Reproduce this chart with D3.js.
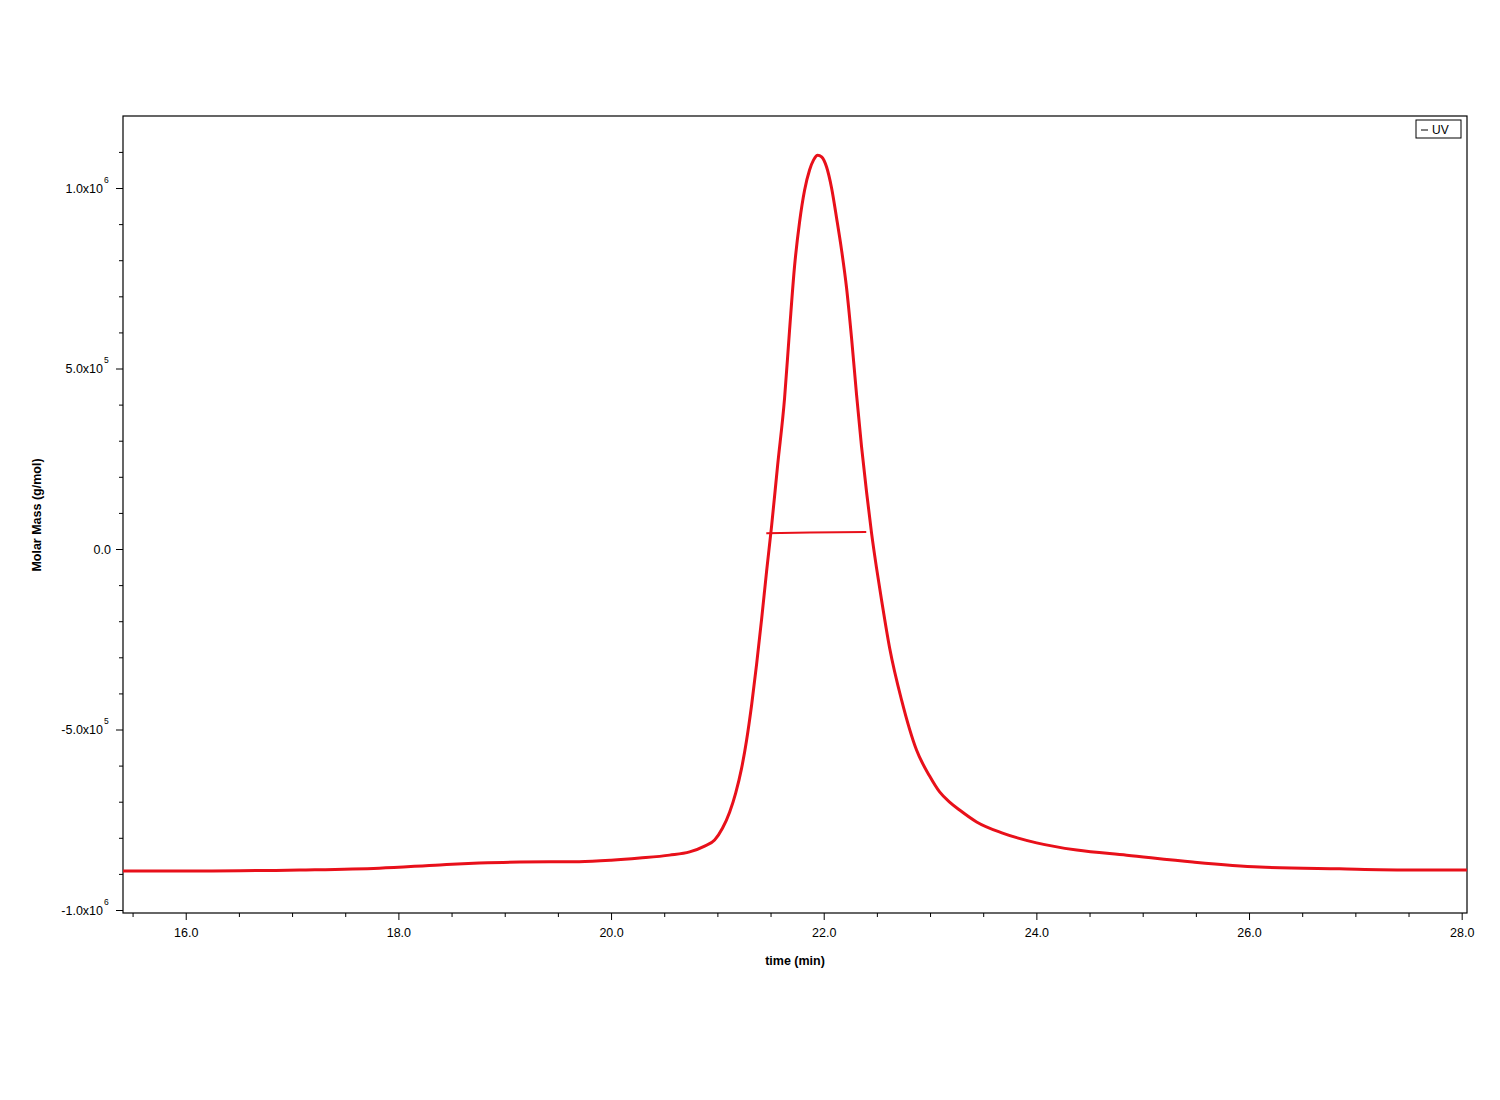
<!DOCTYPE html>
<html><head><meta charset="utf-8">
<script src="https://cdn.jsdelivr.net/npm/d3@7"></script>
<style>
body{margin:0;background:#fff;}
text{font-family:"Liberation Sans",Arial,sans-serif;}
</style></head>
<body><svg id="c" width="1500" height="1100"></svg>
<script>
// UV trace (time in min, value on molar-mass axis)
const uvTime = [15.41,16.13,17.07,17.82,18.39,18.76,19.14,19.70,20.00,20.27,20.55,
  20.739,20.880,20.974,21.049,21.115,21.172,21.228,21.275,21.322,21.369,21.416,21.463,21.510,21.567,21.632,21.679,21.726,21.773,21.820,21.867,21.905,21.943,
  21.980,22.027,22.074,22.121,22.168,22.215,22.262,22.309,22.356,22.403,22.450,22.497,22.544,22.620,22.732,22.873,22.996,23.090,23.184,23.278,23.438,23.682,24.002,
  24.38,24.85,25.47,26.10,26.85,27.48,28.05];
const uvValue = [-8.92e5,-8.92e5,-8.89e5,-8.84e5,-8.75e5,-8.70e5,-8.67e5,-8.66e5,-8.62e5,-8.56e5,-8.48e5,
  -8.39e5,-8.23e5,-8.06e5,-7.73e5,-7.29e5,-6.76e5,-6.07e5,-5.29e5,-4.32e5,-3.19e5,-1.94e5,-0.61e5,0.64e5,2.33e5,4.18e5,6.07e5,7.84e5,9.06e5,9.94e5,1.050e6,1.078e6,1.091e6,
  1.086e6,1.058e6,1.000e6,9.17e5,8.28e5,7.23e5,5.84e5,4.27e5,2.83e5,1.58e5,0.44e5,-0.53e5,-1.41e5,-2.74e5,-4.18e5,-5.57e5,-6.29e5,-6.73e5,-7.01e5,-7.23e5,-7.56e5,-7.87e5,-8.14e5,
  -8.34e5,-8.48e5,-8.67e5,-8.81e5,-8.86e5,-8.89e5,-8.89e5];
// Molar mass segment
const mmTime = [21.46,21.87,22.40];
const mmValue = [4.4e4,4.6e4,4.7e4];
// ticks
const xTicks = [16,18,20,22,24,26,28];
const xTickLabels = ["16.0","18.0","20.0","22.0","24.0","26.0","28.0"];
const yTicks = [-1e6,-5e5,0,5e5,1e6];
const yTickMantissa = ["-1.0x10","-5.0x10","0.0","5.0x10","1.0x10"];
const yTickExp = ["6","5","","5","6"];
const seriesName = "UV";

const svg = d3.select("#c");
const L=123,T=116,R=1467,B=913;
const x = d3.scaleLinear().domain([15.41,28.05]).range([L,R]);
const y = d3.scaleLinear().domain([-1.0083e6,1.1995e6]).range([B,T]);
const red = "#e8101a";
const FONT = "Liberation Sans, Arial, sans-serif";

// frame
svg.append("rect").attr("x",L).attr("y",T).attr("width",R-L).attr("height",B-T)
  .attr("fill","none").attr("stroke","#000").attr("stroke-width",1.2);

// x axis
const xMinor = d3.range(15.5,28.01,0.5).filter(v=>!xTicks.includes(v));
const xa = svg.append("g").attr("transform",`translate(0,${B})`);
xa.call(d3.axisBottom(x).tickValues(xMinor).tickSize(4).tickFormat(""));
xa.append("g").call(d3.axisBottom(x).tickValues(xTicks).tickSize(7).tickFormat((d,i)=>xTickLabels[i]));
xa.selectAll(".domain").remove();
xa.selectAll("text").attr("font-size",12.5).attr("fill","#000").attr("font-family",FONT).attr("dy","1.1em");
xa.selectAll("line").attr("stroke","#000");

// y axis
const yMinor = d3.range(-1e6,1.2e6,1e5).filter(v=>!yTicks.some(t=>Math.abs(t-v)<1));
const ya = svg.append("g").attr("transform",`translate(${L},0)`);
ya.call(d3.axisLeft(y).tickValues(yMinor).tickSize(4).tickFormat(""));
const yMaj = ya.append("g").call(d3.axisLeft(y).tickValues(yTicks).tickSize(7).tickFormat(""));
ya.selectAll(".domain").remove();
ya.selectAll("line").attr("stroke","#000");
yMaj.selectAll(".tick").each(function(d,i){
  const g=d3.select(this);
  const t=g.append("text").attr("dy","0.35em").attr("text-anchor","end")
    .attr("font-size",12.5).attr("fill","#000").attr("font-family",FONT);
  if(yTickExp[i]){
    t.attr("x",-20).text(yTickMantissa[i]);
    g.append("text").attr("x",-19).attr("y",-6).attr("text-anchor","start").attr("font-size",8.5).attr("fill","#000")
      .attr("font-family",FONT).text(yTickExp[i]);
  } else {
    t.attr("x",-12).text(yTickMantissa[i]);
  }
});

// axis titles
svg.append("text").attr("x",795).attr("y",965).attr("text-anchor","middle")
  .attr("font-size",12.5).attr("font-weight","bold").text("time (min)");
svg.append("text").attr("transform","translate(41,515) rotate(-90)").attr("text-anchor","middle")
  .attr("font-size",12.5).attr("font-weight","bold").text("Molar Mass (g/mol)");

// clip
svg.append("clipPath").attr("id","clip").append("rect").attr("x",L).attr("y",T).attr("width",R-L).attr("height",B-T);

const uv = uvTime.map((t,i)=>[t,uvValue[i]]);
svg.append("path").datum(uv).attr("clip-path","url(#clip)")
  .attr("d",d3.line().x(d=>x(d[0])).y(d=>y(d[1])).curve(d3.curveMonotoneX))
  .attr("fill","none").attr("stroke",red).attr("stroke-width",3).attr("stroke-linejoin","round");

const mm = mmTime.map((t,i)=>[t,mmValue[i]]);
svg.append("path").datum(mm)
  .attr("d",d3.line().x(d=>x(d[0])).y(d=>y(d[1])))
  .attr("fill","none").attr("stroke",red).attr("stroke-width",2);

// legend
const lg = svg.append("g").attr("transform","translate(1416,120)");
lg.append("rect").attr("width",45).attr("height",18).attr("fill","#fff").attr("stroke","#000").attr("stroke-width",1);
lg.append("line").attr("x1",5).attr("x2",12).attr("y1",10).attr("y2",10).attr("stroke","#000");
lg.append("text").attr("x",16).attr("y",14).attr("font-size",12).text(seriesName);
</script></body></html>
